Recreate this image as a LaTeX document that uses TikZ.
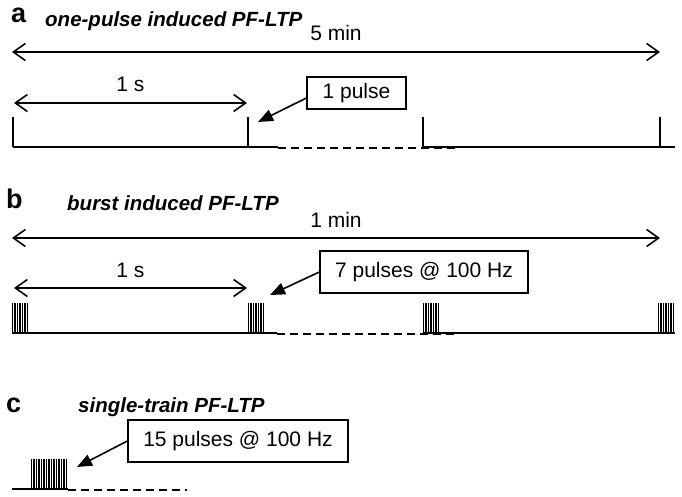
\documentclass[tikz,border=0pt]{standalone}
\usepackage{fontspec}
\setmainfont{Liberation Sans}
\usetikzlibrary{arrows.meta,positioning}

\newcommand{\lblsize}{\fontsize{21}{24}\selectfont}
\newcommand{\ttlsize}{\fontsize{20.5}{24}\selectfont\bfseries\itshape}
\newcommand{\pnlsize}{\fontsize{27}{30}\selectfont\bfseries}

\tikzset{
  spanarrow/.style={<->, >={Straight Barb[length=12pt,width=17pt]}, line width=1.6pt},
  pointer/.style={-{Triangle[length=15pt,width=12pt]}, line width=1.6pt},
  pulsebox/.style={draw, line width=1.3pt, inner sep=0pt, font=\lblsize},
  timeline/.style={line width=1.5pt},
  gapline/.style={line width=1.5pt, dash pattern=on 8pt off 5pt},
  spike/.style={line width=1.5pt},
  pulseline/.style={line width=1.1pt},
  panellbl/.style={anchor=base west, inner sep=0pt, font=\pnlsize},
  paneltitle/.style={anchor=base west, inner sep=0pt, font=\ttlsize},
}

\begin{document}
\begin{tikzpicture}[x=1pt, y=-1pt]

\def \dt {2.5} % spacing of pulses at 100 Hz
\def \high {30} % height of a pulse
\useasboundingbox (0,0) rectangle (682,496);
%
% panel a
  \node[panellbl] (pa) at (11,22) {a};
  \node[paneltitle] (ta) at (45,26.5) {one-pulse induced PF-LTP};
  \draw[spanarrow] (12,52) -- node[above=10pt, inner sep=0pt] (lfivemin) {\lblsize 5 min} (660,52);
  \draw[spanarrow] (14,103) -- node[above=10pt, inner sep=0pt] (lonesa) {\lblsize 1 s} (247,103);
  \node[pulsebox, minimum width=99pt, minimum height=32pt] (boxa) at (356.5,93) {1 pulse};
  \coordinate (tipa) at (258,122);
  \draw[pointer] ([yshift=-5pt]boxa.west) -- (tipa);
  \draw[timeline] (13,147) -- (278,147);
  \draw[gapline] (278,147.8) -- (455,147.8);
  \draw[timeline] (423,147) -- (675,147);
  \foreach \x in {13,248,423,660}
    \draw[spike] (\x,147) -- (\x,{147-\high});
%
% panel b
  \node[panellbl] (pb) at (6,208) {b};
  \node[paneltitle] (tb) at (67,210) {burst induced PF-LTP};
  \draw[spanarrow] (12,238) -- node[above=10pt, inner sep=0pt] (lonemin) {\lblsize 1 min} (660,238);
  \draw[spanarrow] (14,288) -- node[above=10pt, inner sep=0pt] (lonesb) {\lblsize 1 s} (247,288);
  \node[pulsebox, minimum width=208pt, minimum height=42pt] (boxb) at (424,272) {7 pulses @ 100 Hz};
  \coordinate (tipb) at (270,295);
  \draw[pointer] (boxb.west) -- (tipb);
  \draw[timeline] (12,333) -- (277,333);
  \draw[gapline] (277,333.8) -- (455,333.8);
  \draw[timeline] (423,333) -- (675,333);
  \foreach \x in {12,248,423,658}
    \foreach \k in {0,...,6}
      \draw[pulseline] ({\x+0.5+\k*\dt},333) -- ++(0,-\high);
%
% panel c
  \node[panellbl] (pc) at (6,412) {c};
  \node[paneltitle] (tc) at (78,412) {single-train PF-LTP};
  \node[pulsebox, minimum width=220pt, minimum height=42pt] (boxc) at (238,441) {15 pulses @ 100 Hz};
  \coordinate (tipc) at (77,467);
  \draw[pointer] (boxc.west) -- (tipc);
  \draw[timeline] (12,489) -- (68,489);
  \draw[gapline] (68,489.8) -- (187,489.8);
  \foreach \k in {0,...,14}
    \draw[pulseline] ({31.5+\k*\dt},489) -- ++(0,-\high);
%
\end{tikzpicture}
\end{document}
